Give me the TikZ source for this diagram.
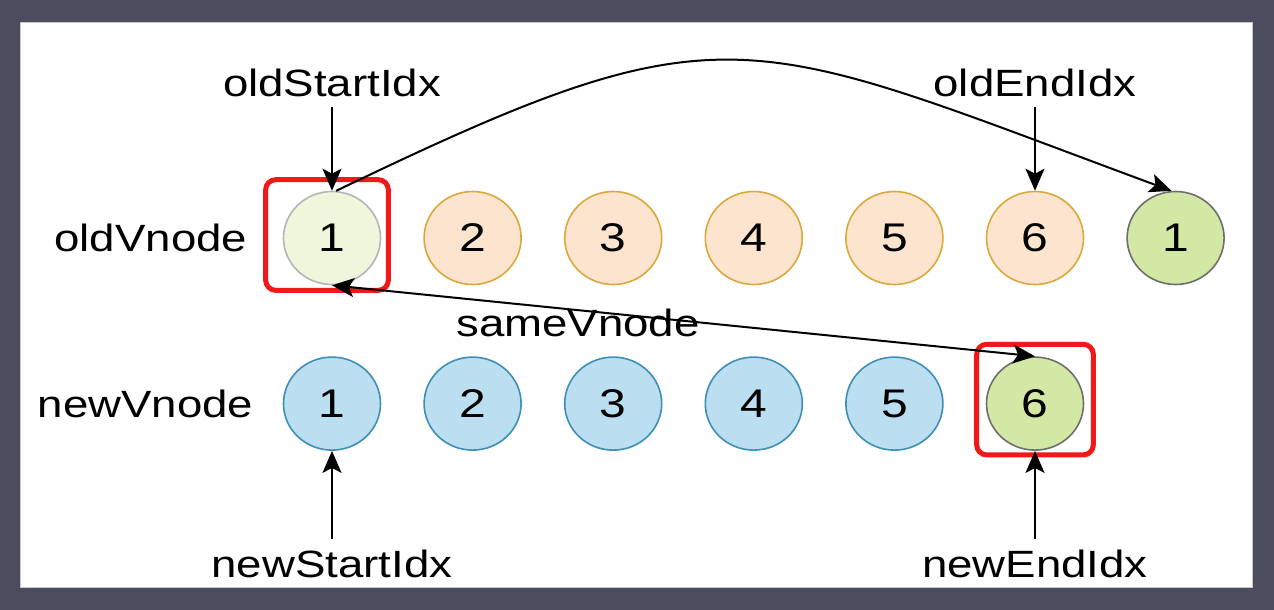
\documentclass[tikz,border=0pt]{standalone}
\usepackage{fontspec}
\setmainfont{Liberation Sans}[FakeStretch=1.2]
\usepackage{xcolor}
\usetikzlibrary{positioning,shapes.geometric,arrows.meta,fit}

\definecolor{framebg}{HTML}{4B4C5E}
\definecolor{firstfill}{HTML}{EFF6DC}
\definecolor{firstline}{HTML}{B5B5B5}
\definecolor{oldfill}{HTML}{FDE4CF}
\definecolor{oldline}{HTML}{D9A93A}
\definecolor{samefill}{HTML}{D3E8A4}
\definecolor{sameline}{HTML}{6E6E6E}
\definecolor{newfill}{HTML}{BBDEF1}
\definecolor{newline}{HTML}{3D8FB6}
\definecolor{markred}{HTML}{F01818}

\begin{document}
\begin{tikzpicture}[
    x=1pt, y=-1pt,
    node distance=71pt and 42pt,
    vnode/.style={draw, ellipse, line width=1.6pt, minimum width=97pt, minimum height=93pt, inner sep=0pt, font=\fontsize{40}{48}\selectfont},
    firstnode/.style={vnode, fill=firstfill, draw=firstline},
    oldnode/.style={vnode, fill=oldfill, draw=oldline},
    samenode/.style={vnode, fill=samefill, draw=sameline},
    newnode/.style={vnode, fill=newfill, draw=newline},
    idxtext/.style={font=\fontsize{38}{46}\selectfont},
    markbox/.style={draw=markred, line width=5pt, rounded corners=10pt, inner xsep=12pt, inner ysep=8pt},
    line/.style={-{Stealth[length=22pt,width=19pt,inset=5pt]}, line width=2pt},
    bothline/.style={{Stealth[length=22pt,width=19pt,inset=5pt]}-{Stealth[length=22pt,width=19pt,inset=5pt]}, line width=2pt}
]

% Frame
\fill[framebg] (0,0) rectangle (1274,610);
\fill[white, draw=gray!45, line width=1pt] (20,23) rectangle (1252,587);

% Top row: old vnodes
\node[firstnode] (old1) at (332,238) {1};
\node[oldnode, right=of old1] (old2) {2};
\node[oldnode, right=of old2] (old3) {3};
\node[oldnode, right=of old3] (old4) {4};
\node[oldnode, right=of old4] (old5) {5};
\node[oldnode, right=of old5] (old6) {6};
\node[samenode, right=of old6] (moved) {1};
\node[idxtext, left=32pt of old1] (oldrow) {oldVnode};

% Bottom row: new vnodes
\node[newnode, below=of old1] (new1) {1};
\node[newnode, right=of new1] (new2) {2};
\node[newnode, right=of new2] (new3) {3};
\node[newnode, right=of new3] (new4) {4};
\node[newnode, right=of new4] (new5) {5};
\node[samenode, right=of new5] (new6) {6};
\node[idxtext, left=26pt of new1] (newrow) {newVnode};

% Red marks
\node[markbox, fit=(old1), xshift=-5pt, yshift=3pt] (markold) {};
\node[markbox, fit=(new6), inner xsep=9pt, yshift=4pt] (marknew) {};

% Index pointers
\node[idxtext, above=90pt of old1] (oldstart) {oldStartIdx};
\node[idxtext, above=90pt of old6] (oldend) {oldEndIdx};
\node[idxtext, below=96pt of new1] (newstart) {newStartIdx};
\node[idxtext, below=96pt of new6] (newend) {newEndIdx};

\draw[line, shorten <=6pt] (oldstart) -- (old1);
\draw[line, shorten <=6pt] (oldend) -- (old6);
\draw[line, shorten <=8pt] (newstart) -- (new1);
\draw[line, shorten <=8pt] (newend) -- (new6);

% Moves
\draw[line] (old1.85) .. controls (728,2) and (742,32) .. (moved.95);
\draw[bothline] (old1.south) -- (new6.north) node[pos=0.35, below=-6pt, idxtext] (same) {sameVnode};

\end{tikzpicture}
\end{document}
